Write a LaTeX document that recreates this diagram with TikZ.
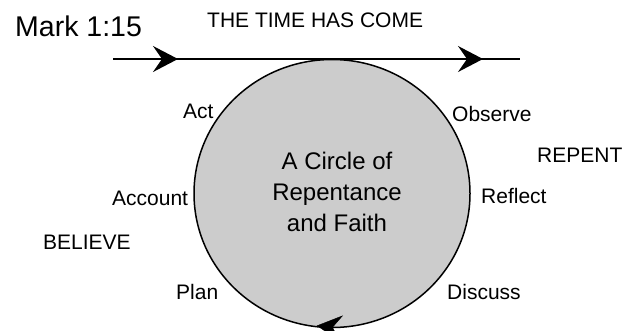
\documentclass[tikz,border=0pt]{standalone}
\usepackage{fontspec}
\setmainfont{Liberation Sans}
\usetikzlibrary{arrows.meta,decorations.markings,shapes.geometric}
\definecolor{circfill}{RGB}{204,204,204}
\tikzset{
  lbl/.style={inner sep=0pt, anchor=base west, font=\fontsize{21}{25}\selectfont},
  bigtip/.tip={Stealth[length=25pt, width=26pt, inset=9pt]},
  conn/.style={line width=1.5pt},
}
\begin{document}
\begin{tikzpicture}[x=1pt, y=-1pt]
\useasboundingbox (0,0) rectangle (636,330);
% circle
\node[ellipse, draw, line width=1.5pt, fill=circfill, minimum width=276pt, minimum height=268pt, inner sep=0pt] (circ) at (332,193.5) {};
\path[decoration={markings, mark=at position 0.268 with {\arrow{bigtip}}}, postaction=decorate]
  (circ.center) ellipse [x radius=137, y radius=133];
% time line
\coordinate (tl) at (113,59);
\coordinate (tr) at (520,59);
\draw[conn, decoration={markings, mark=at position 65pt with {\arrow{bigtip}}, mark=at position 370pt with {\arrow{bigtip}}}, postaction=decorate] (tl) -- (tr);
% texts
\node[lbl, font=\fontsize{28.5}{32}\selectfont] (mark) at (15,36) {Mark 1:15};
\node[lbl] (time) at (207,27) {THE TIME HAS COME};
\node[lbl] (act) at (183,118) {Act};
\node[lbl] (observe) at (452,121) {Observe};
\node[lbl] (repent) at (537,162) {REPENT};
\node[lbl] (account) at (112,205) {Account};
\node[lbl] (reflect) at (481,203) {Reflect};
\node[lbl] (believe) at (43,249) {BELIEVE};
\node[lbl] (plan) at (176,299) {Plan};
\node[lbl] (discuss) at (447,299) {Discuss};
\node[inner sep=0pt, align=center, font=\fontsize{24}{31}\selectfont] (ctext) at (337,191.5) {A Circle of\\Repentance\\and Faith};
\end{tikzpicture}
\end{document}
